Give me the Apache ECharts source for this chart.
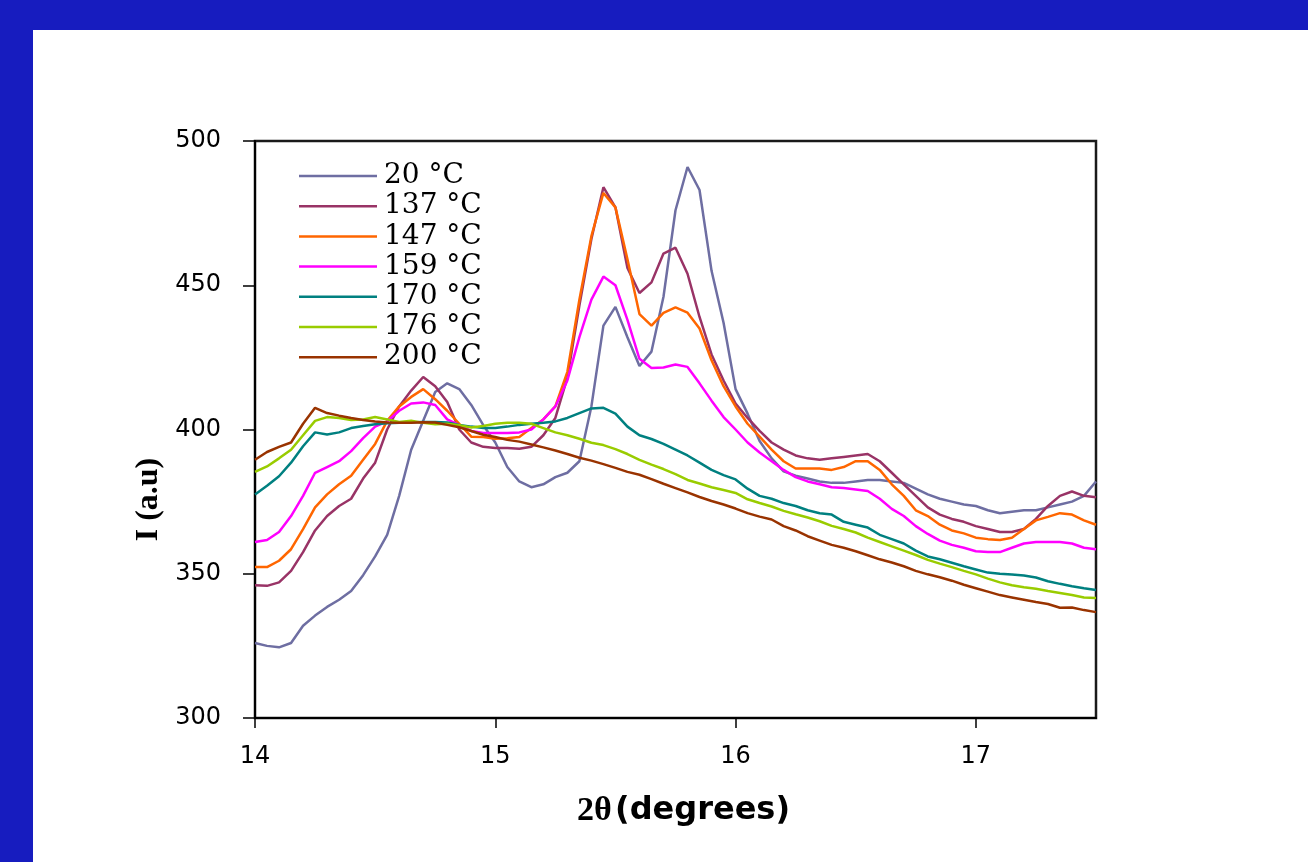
<!DOCTYPE html>
<html>
<head>
<meta charset="utf-8">
<title>XRD patterns vs temperature</title>
<script src="https://cdn.jsdelivr.net/npm/echarts@6/dist/echarts.min.js"></script>
<style>
  html, body { margin: 0; padding: 0; background: #171cbf; }
  #panel { position: absolute; left: 33px; top: 30px; width: 1275px; height: 832px; background: #fff; }
  #chart { position: absolute; left: 0; top: 0; width: 1308px; height: 862px; }
</style>
</head>
<body>
<div id="panel"></div>
<div id="chart"></div>
<script>
// 2theta positions (degrees), one reading every 0.05
var theta = [
  14.00, 14.05, 14.10, 14.15, 14.20, 14.25, 14.30, 14.35, 14.40, 14.45,
  14.50, 14.55, 14.60, 14.65, 14.70, 14.75, 14.80, 14.85, 14.90, 14.95,
  15.00, 15.05, 15.10, 15.15, 15.20, 15.25, 15.30, 15.35, 15.40, 15.45,
  15.50, 15.55, 15.60, 15.65, 15.70, 15.75, 15.80, 15.85, 15.90, 15.95,
  16.00, 16.05, 16.10, 16.15, 16.20, 16.25, 16.30, 16.35, 16.40, 16.45,
  16.50, 16.55, 16.60, 16.65, 16.70, 16.75, 16.80, 16.85, 16.90, 16.95,
  17.00, 17.05, 17.10, 17.15, 17.20, 17.25, 17.30, 17.35, 17.40, 17.45,
  17.50
];

var seriesNames = ['20 °C', '137 °C', '147 °C', '159 °C', '170 °C', '176 °C', '200 °C'];
var seriesColors = ['#6e6ea2', '#993366', '#ff6600', '#ff00ff', '#008080', '#99cc00', '#993300'];

var i20 = [
  326, 325, 324.5, 326, 332, 335.5, 338.5, 341, 344, 349.5,
  356, 363.5, 377, 393, 403, 413, 416, 414, 408.5, 401.5,
  395.5, 387, 382, 380, 381, 383.5, 385, 389, 408, 436,
  442.5, 432, 422, 427, 446, 476, 491, 483, 455, 437,
  414, 405.5, 396, 390, 385.5, 384, 383, 382, 381.5, 381.5,
  382, 382.5, 382.5, 382, 381.5, 379.5, 377.5, 376, 375, 374,
  373.5, 372, 371, 371.5, 372, 372, 373, 374, 375, 377,
  382
];
var i137 = [
  346, 345.8, 347, 351, 357.5, 365, 370, 373.5, 376, 383,
  388.5, 400, 408, 413.5, 418.2, 415, 409.5, 400, 395.5, 394,
  393.6, 393.6, 393.3, 394, 398, 404, 418, 443, 466, 484,
  477, 456, 447.3, 451, 461, 463, 454, 439, 426, 417,
  409, 404, 399.5, 395.5, 393, 391, 390, 389.5, 390, 390.5,
  391, 391.5, 389, 385, 381, 377, 373, 370.5, 369, 368,
  366.5, 365.5, 364.5, 364.5, 365.5, 369, 373.5, 377, 378.5, 377,
  376.5
];
var i147 = [
  352.3, 352.3, 354.5, 358.5, 365.5, 373, 377.5, 381, 384, 389.5,
  395, 403, 408, 411.3, 414, 410.5, 406.5, 402, 397.5, 397.4,
  396.8, 397, 397.4, 400.5, 403.5, 408, 420, 445, 467, 482,
  477, 459, 440, 436, 440.4, 442.3, 440.5, 435, 424, 415,
  408, 402, 397.5, 393, 389, 386.5, 386.5, 386.5, 386, 387,
  389, 389, 386, 381, 377, 372, 370, 367, 365, 364,
  362.5, 362, 361.7, 362.5, 365.5, 368.5, 369.7, 371, 370.5, 368.5,
  367
];
var i159 = [
  361, 361.7, 364.5, 370, 377, 385, 387, 389, 392.5, 397,
  401, 402.8, 406.5, 409, 409.4, 408.5, 403.5, 401.5, 399.5, 398.8,
  398.8, 398.8, 399, 400, 403.5, 408, 417, 432, 445, 453,
  450, 438, 424.5, 421.3, 421.5, 422.5, 421.7, 416, 410, 404.3,
  400, 395.5, 392, 389, 386, 383.5, 382, 381, 380, 379.7,
  379.2, 378.7, 376, 372.5, 370, 366.5, 363.8, 361.5, 360, 359,
  357.8, 357.5, 357.5, 359, 360.5, 361, 361, 361, 360.5, 359,
  358.5
];
var i170 = [
  377.5, 380.5, 383.8, 388.5, 394.2, 399, 398.3, 399, 400.5, 401.2,
  401.8, 402.2, 402.3, 402.5, 402.6, 402.6, 402.4, 401.6, 401, 400.5,
  400.5, 401, 401.6, 402, 402.3, 402.8, 404, 405.7, 407.3, 407.5,
  405.5, 401, 398, 396.7, 395, 393, 391, 388.5, 386, 384.2,
  382.7, 379.5, 377, 376, 374.5, 373.5, 372, 371, 370.5, 368,
  367, 366, 363.5, 362, 360.5, 358, 356, 355, 353.8, 352.6,
  351.5, 350.4, 350, 349.7, 349.4, 348.7, 347.4, 346.5, 345.7, 345,
  344.4
];
var i176 = [
  385.3, 387.2, 390, 393, 398, 403, 404.3, 404, 403.3, 403.5,
  404.3, 403.5, 402.6, 403, 402.3, 401.8, 402, 401.5, 400.7, 401.2,
  402, 402.3, 402.3, 402, 400.5, 399, 398, 396.8, 395.4, 394.6,
  393.2, 391.5, 389.5, 387.8, 386.3, 384.5, 382.5, 381.3, 380, 379,
  378, 375.8, 374.5, 373.3, 371.8, 370.6, 369.5, 368.2, 366.6, 365.5,
  364.3, 362.5, 361, 359.5, 358, 356.5, 354.8, 353.5, 352.3, 351,
  349.8, 348.3, 347, 346, 345.3, 344.8, 344, 343.3, 342.6, 341.8,
  341.6
];
var i200 = [
  389.5, 392.2, 394, 395.5, 402, 407.5, 405.7, 404.8, 404, 403.3,
  402.8, 402.4, 402.3, 402.3, 402.5, 402.4, 401.6, 400.8, 399.5, 398.2,
  397.4, 396.4, 395.8, 394.8, 393.8, 392.7, 391.5, 390.2, 389.2, 388,
  386.7, 385.3, 384.3, 382.8, 381.2, 379.7, 378.2, 376.6, 375.2, 374,
  372.6, 371, 369.8, 368.8, 366.5, 365, 363, 361.5, 360, 359,
  357.8, 356.4, 355, 353.9, 352.6, 351, 349.8, 348.8, 347.6, 346.2,
  345, 343.8, 342.6, 341.8, 341, 340.2, 339.5, 338.2, 338.3, 337.4,
  336.7
];

var intensities = [i20, i137, i147, i159, i170, i176, i200];
var xTicks = [14, 15, 16, 17];

var chart = echarts.init(document.getElementById('chart'));

var series = seriesNames.map(function (name, k) {
  return {
    name: name,
    type: 'line',
    showSymbol: false,
    symbol: 'none',
    animation: false,
    lineStyle: { color: seriesColors[k], width: 2.5 },
    itemStyle: { color: seriesColors[k] },
    data: theta.map(function (t, j) { return [t, intensities[k][j]]; })
  };
});

var option = {
  backgroundColor: 'transparent',
  animation: false,
  grid: {
    left: 255, top: 141, width: 841, height: 577,
    show: true, borderColor: '#1a1a1a', borderWidth: 2.5
  },
  legend: {
    orient: 'vertical',
    left: 294,
    top: 157,
    itemWidth: 78,
    itemHeight: 2.5,
    itemGap: 2.2,
    icon: 'rect',
    data: seriesNames,
    textStyle: {
      fontFamily: 'DejaVu Serif',
      fontSize: 28,
      lineHeight: 28,
      color: '#000',
      padding: [0, 0, 0, 2]
    }
  },
  xAxis: {
    type: 'value',
    min: 14,
    max: 17.5,
    interval: 1,
    name: '{a|2θ} {b|(degrees)}',
    nameLocation: 'middle',
    nameGap: 76,
    nameTextStyle: {
      padding: [0, 0, 0, 16],
      rich: {
        a: { fontFamily: 'Liberation Serif', fontWeight: 'bold', fontSize: 34, color: '#000' },
        b: { fontFamily: 'DejaVu Sans', fontWeight: 'bold', fontSize: 32, color: '#000' }
      }
    },
    splitLine: { show: false },
    axisLine: { lineStyle: { color: '#000', width: 2 } },
    axisTick: { customValues: xTicks, length: 10, lineStyle: { color: '#000', width: 1.5 } },
    axisLabel: {
      customValues: xTicks,
      margin: 27,
      fontFamily: 'DejaVu Sans',
      fontSize: 24,
      color: '#000'
    }
  },
  yAxis: {
    type: 'value',
    min: 300,
    max: 500,
    interval: 50,
    name: 'I (a.u)',
    nameLocation: 'middle',
    nameGap: 90,
    nameTextStyle: {
      fontFamily: 'Liberation Serif',
      fontWeight: 'bold',
      fontSize: 32,
      color: '#000',
      padding: [0, 140, 0, 0]
    },
    splitLine: { show: false },
    axisLine: { show: true, lineStyle: { color: '#000', width: 2 } },
    axisTick: { show: true, length: 12, lineStyle: { color: '#000', width: 1.5 } },
    axisLabel: {
      margin: 34,
      fontFamily: 'DejaVu Sans',
      fontSize: 24,
      color: '#000'
    }
  },
  series: series
};

chart.setOption(option);
</script>
</body>
</html>
